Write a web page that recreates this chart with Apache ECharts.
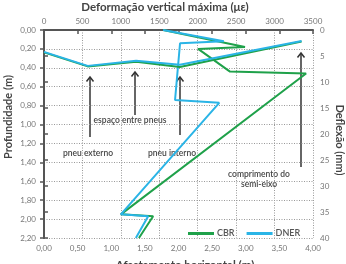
<!DOCTYPE html>
<html>
<head>
<meta charset="utf-8">
<script src="https://cdn.jsdelivr.net/npm/echarts@6/dist/echarts.min.js"></script>
<style>
  html, body { margin: 0; padding: 0; background: #fff; }
  #perfilChart { width: 346px; height: 264px; }
</style>
</head>
<body>
<div id="perfilChart"></div>
<script>
// perfil de deformacao vertical (eixo superior x profundidade)
const cbrDeformacao = [1550, 2615, 2005, 2420, 3410, 1000, 1420, 1235]
const cbrProfundidade = [0, 0.18, 0.20, 0.44, 0.46, 1.95, 1.97, 2.20]
const dnerDeformacao = [1550, 2340, 1770, 1705, 2280, 1000, 1355, 1195]
const dnerProfundidade = [0, 0.12, 0.14, 0.74, 0.77, 1.95, 1.97, 2.20]

// bacia de deflexao (afastamento horizontal x deflexao)
const afastamento = [0, 0.65, 1.37, 2.02, 3.83]
const cbrDeflexao = [4.3, 7.0, 6.1, 7.1, 2.2]
const dnerDeflexao = [4.2, 6.9, 5.9, 6.7, 2.1]

const serieNomes = ['CBR', 'DNER']
const corArr = ['#1fa14a', '#2ab4e6']

const fonte = 'Lato, "Open Sans", sans-serif'

function pares(xs, ys) {
  return xs.map((x, i) => [x, ys[i]])
}
function virgula(v, casas) {
  return v.toFixed(casas).replace('.', ',')
}

// seta apontando para cima
function seta(x, yTopo, yBase) {
  return {
    type: 'group',
    children: [
      { type: 'line', shape: { x1: x, y1: yBase, x2: x, y2: yTopo },
        style: { stroke: '#333', lineWidth: 1.5 } },
      { type: 'polyline', shape: { points: [[x - 3.5, yTopo + 4.5], [x, yTopo], [x + 3.5, yTopo + 4.5]] },
        style: { stroke: '#333', lineWidth: 1.5, fill: null } }
    ]
  }
}
function texto(x, y, t) {
  return { type: 'text', x: x, y: y,
    style: { text: t, fill: '#444', font: '600 8.5px ' + fonte, align: 'center', verticalAlign: 'middle' } }
}

let myChart = echarts.init(document.getElementById('perfilChart'))

const eixoEscuro = { show: true, lineStyle: { color: '#555', width: 2 } }
const rotulo = { color: '#777', fontSize: 8, fontFamily: fonte }
const grade = { show: true, lineStyle: { color: '#999', type: [1, 1.5], width: 1 } }

myChart.setOption({
  animation: false,
  grid: { left: 44, right: 33, top: 30, bottom: 26 },
  legend: {
    data: serieNomes,
    left: 183, top: 224,
    itemWidth: 26, itemHeight: 3, itemGap: 12,
    icon: 'rect',
    textStyle: { color: '#555', fontSize: 9, fontWeight: 600, fontFamily: fonte, padding: [0, 0, 0, -2] }
  },
  xAxis: [
    {
      type: 'value', position: 'top', min: 0, max: 3500, interval: 500,
      axisLine: { show: false }, axisTick: { show: false },
      axisLabel: Object.assign({ margin: 5, formatter: v => String(v) }, rotulo),
      splitLine: grade
    },
    {
      type: 'value', position: 'bottom', min: 0, max: 4, interval: 0.5,
      axisLine: eixoEscuro, axisTick: { show: true, length: 4, lineStyle: { color: '#555', width: 1.5 } },
      axisLabel: Object.assign({ margin: 6, formatter: v => virgula(v, 2) }, rotulo),
      splitLine: { show: false }
    }
  ],
  yAxis: [
    {
      type: 'value', inverse: true, min: 0, max: 2.2, interval: 0.2,
      axisLine: eixoEscuro, axisTick: { show: true, length: 4, lineStyle: { color: '#555', width: 1.5 } },
      axisLabel: Object.assign({ margin: 8, formatter: v => virgula(v, 2) }, rotulo),
      splitLine: grade
    },
    {
      type: 'value', inverse: true, min: 0, max: 40, interval: 5, position: 'right',
      axisLine: eixoEscuro, axisTick: { show: true, length: 4, lineStyle: { color: '#555', width: 1.5 } },
      axisLabel: Object.assign({ margin: 7, formatter: v => String(v) }, rotulo),
      splitLine: { show: false }
    }
  ],
  graphic: [
    { type: 'text', x: 165, y: 7,
      style: { text: 'Deformação vertical máxima (με)', fill: '#444', font: 'bold 11.5px ' + fonte, align: 'center', verticalAlign: 'middle' } },
    { type: 'text', x: 185, y: 265,
      style: { text: 'Afastamento horizontal (m)', fill: '#444', font: 'bold 11.5px ' + fonte, align: 'center', verticalAlign: 'middle' } },
    { type: 'text', x: 8, y: 117, rotation: Math.PI / 2,
      style: { text: 'Profundidade (m)', fill: '#444', font: 'bold 11px ' + fonte, align: 'center', verticalAlign: 'middle' } },
    { type: 'text', x: 340, y: 140, rotation: -Math.PI / 2,
      style: { text: 'Deflexão (mm)', fill: '#444', font: 'bold 11px ' + fonte, align: 'center', verticalAlign: 'middle' } },
    seta(90, 77, 137),
    seta(135, 72, 115),
    seta(180, 77, 135),
    seta(301, 53, 167),
    texto(130, 120, 'espaço entre pneus'),
    texto(88, 153, 'pneu externo'),
    texto(172, 153, 'pneu interno'),
    texto(259, 174, 'comprimento do'),
    texto(259, 184, 'semi-eixo')
  ],
  series: [
    {
      name: 'CBR', type: 'line', xAxisIndex: 0, yAxisIndex: 0,
      data: pares(cbrDeformacao, cbrProfundidade),
      showSymbol: false, lineStyle: { color: corArr[0], width: 2 }, itemStyle: { color: corArr[0] }
    },
    {
      name: 'DNER', type: 'line', xAxisIndex: 0, yAxisIndex: 0,
      data: pares(dnerDeformacao, dnerProfundidade),
      showSymbol: false, lineStyle: { color: corArr[1], width: 2 }, itemStyle: { color: corArr[1] }
    },
    {
      name: 'CBR', type: 'line', xAxisIndex: 1, yAxisIndex: 1,
      data: pares(afastamento, cbrDeflexao),
      showSymbol: false, lineStyle: { color: corArr[0], width: 2 }, itemStyle: { color: corArr[0] }
    },
    {
      name: 'DNER', type: 'line', xAxisIndex: 1, yAxisIndex: 1,
      data: pares(afastamento, dnerDeflexao),
      showSymbol: false, lineStyle: { color: corArr[1], width: 2 }, itemStyle: { color: corArr[1] }
    }
  ]
})
</script>
</body>
</html>
